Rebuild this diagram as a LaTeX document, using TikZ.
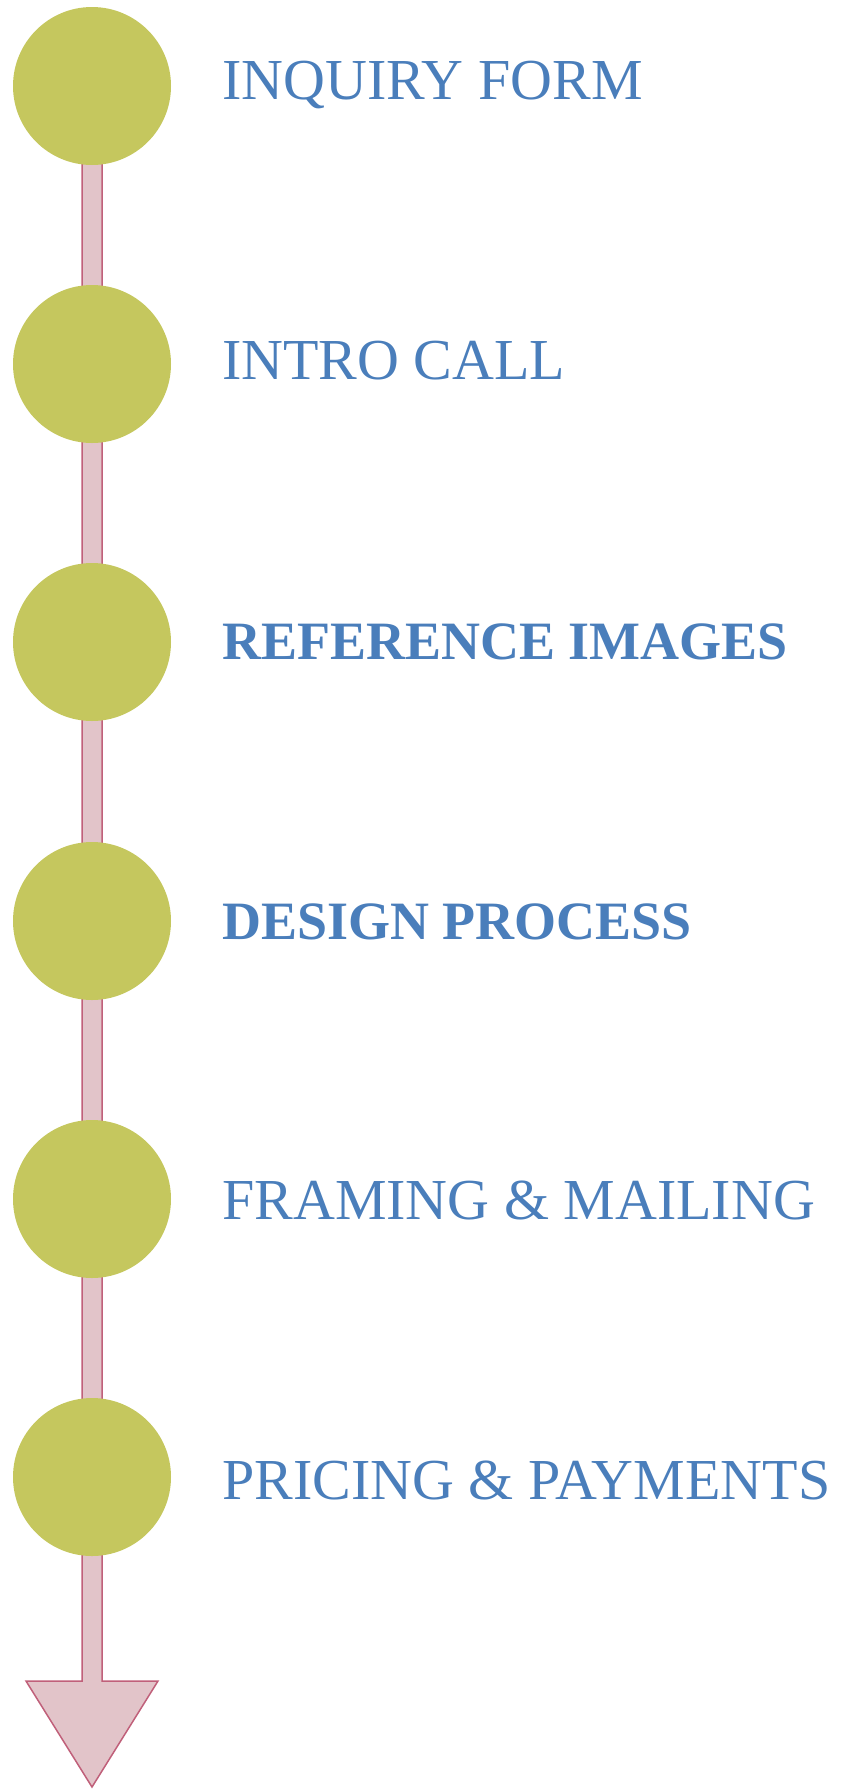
\documentclass[tikz,border=0pt]{standalone}
\usepackage{fontspec}
\setmainfont{Liberation Serif}
\usepackage{tikz}
\usetikzlibrary{positioning}

\definecolor{stepgreen}{RGB}{197,199,94}
\definecolor{stepblue}{RGB}{74,126,187}
\definecolor{shaftfill}{RGB}{226,196,201}
\definecolor{shaftline}{RGB}{192,96,122}

\tikzset{
    stepdot/.style={circle, fill=stepgreen, minimum size=158pt, inner sep=0pt},
    steptext/.style={anchor=base west, inner sep=0pt, text=stepblue, font=\fontsize{58}{60}\selectfont},
    shaft/.style={fill=shaftfill, draw=shaftline, line width=1.5pt, line join=miter}
}

\begin{document}
\begin{tikzpicture}[x=1pt, y=-1pt]
    \useasboundingbox (0,0) rectangle (842,1789);

    % Arrow down the timeline
    \coordinate (tip) at (92,1787);
    \draw[shaft] (82,90) -- (82,1681) -- (26,1681) -- (tip) -- (158,1681)
        -- (102,1681) -- (102,90) -- cycle;

    % Steps
    \node[stepdot] (c1) at (92,86) {};
    \node[stepdot] (c2) at (92,364) {};
    \node[stepdot] (c3) at (92,642) {};
    \node[stepdot] (c4) at (92,921) {};
    \node[stepdot] (c5) at (92,1199) {};
    \node[stepdot] (c6) at (92,1477) {};

    % Labels
    \node[steptext] (t1) at (222,99) {INQUIRY FORM};
    \node[steptext] (t2) at (222,379) {INTRO CALL};
    \node[steptext, font=\fontsize{54}{60}\selectfont\bfseries] (t3) at (222,659) {REFERENCE IMAGES};
    \node[steptext, font=\fontsize{54}{60}\selectfont\bfseries] (t4) at (222,939) {DESIGN PROCESS};
    \node[steptext] (t5) at (222,1219) {FRAMING \& MAILING};
    \node[steptext] (t6) at (222,1499) {PRICING \& PAYMENTS};
\end{tikzpicture}
\end{document}
